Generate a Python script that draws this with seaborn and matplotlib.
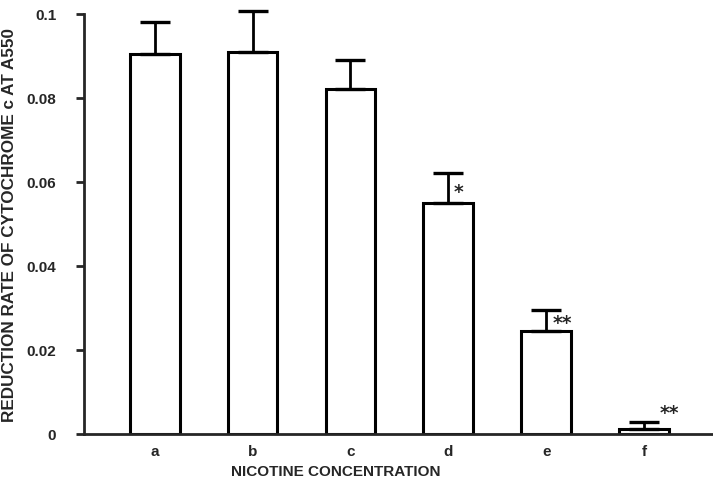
import matplotlib
matplotlib.use("Agg")
import matplotlib.pyplot as plt
import seaborn as sns
import pandas as pd
import numpy as np

categories = ["a", "b", "c", "d", "e", "f"]
values = [0.0905, 0.0910, 0.0821, 0.0550, 0.0245, 0.0012]
errors = [0.0076, 0.0097, 0.0069, 0.0071, 0.0050, 0.0017]
stars = ["", "", "", "*", "**", "**"]
yticks = [0, 0.02, 0.04, 0.06, 0.08, 0.1]
ytick_labels = ["0", "0.02", "0.04", "0.06", "0.08", "0.1"]

# annotation placement (x offset from bar centre, y in data units)
star_dx = [0, 0, 0, 0.10, 0.16, 0.26]
star_y = [0, 0, 0, 0.0588, 0.0276, 0.0062]

sns.set_style("white")
plt.rcParams["font.family"] = ["Liberation Sans", "DejaVu Sans"]
plt.rcParams["font.weight"] = "bold"

df = pd.DataFrame({"conc": categories, "rate": values})

fig = plt.figure(figsize=(7.13, 4.85), dpi=100)
ax = fig.add_axes([84/713, 1-435/485, (712-84)/713, 420/485])

sns.barplot(data=df, x="conc", y="rate", ax=ax, color="white",
            edgecolor="black", linewidth=2.2, width=0.51, errorbar=None,
            saturation=1)

x = np.arange(len(categories))
eb = ax.errorbar(x, values, yerr=[np.zeros(len(errors)), errors], fmt="none",
                 ecolor="black", elinewidth=2, capsize=11, capthick=2.4)
for artist in list(eb.lines[1]) + list(eb.lines[2]):
    artist.set_clip_on(False)

for xi, dx, sy, s in zip(x, star_dx, star_y, stars):
    if s:
        ax.text(xi + dx, sy - 0.0011, s, ha="center", va="center",
                fontsize=13.5, fontweight="bold", fontfamily="DejaVu Sans")

ax.set_xlim(-0.72, 5.69)
ax.set_ylim(0, 0.1)
ax.set_yticks(yticks)
ax.set_yticklabels(ytick_labels)
ax.tick_params(axis="y", direction="out", length=6, width=2, labelsize=11,
               pad=14, left=True)
ax.tick_params(axis="x", length=0, labelsize=11, pad=7)
for lab in ax.get_xticklabels() + ax.get_yticklabels():
    lab.set_fontweight("bold")

sns.despine(ax=ax, top=True, right=True)
ax.spines["left"].set_linewidth(2)
ax.spines["bottom"].set_linewidth(2)

ax.set_xlabel("NICOTINE CONCENTRATION", fontsize=11, fontweight="bold")
ax.xaxis.set_label_coords((336-84)/628, -30/420)
ax.set_ylabel("REDUCTION RATE OF CYTOCHROME c AT A550", fontsize=12.3,
              fontweight="bold")
ax.yaxis.set_label_coords(-(84-17)/628, 0.5)

fig.savefig("out.png", dpi=100)
